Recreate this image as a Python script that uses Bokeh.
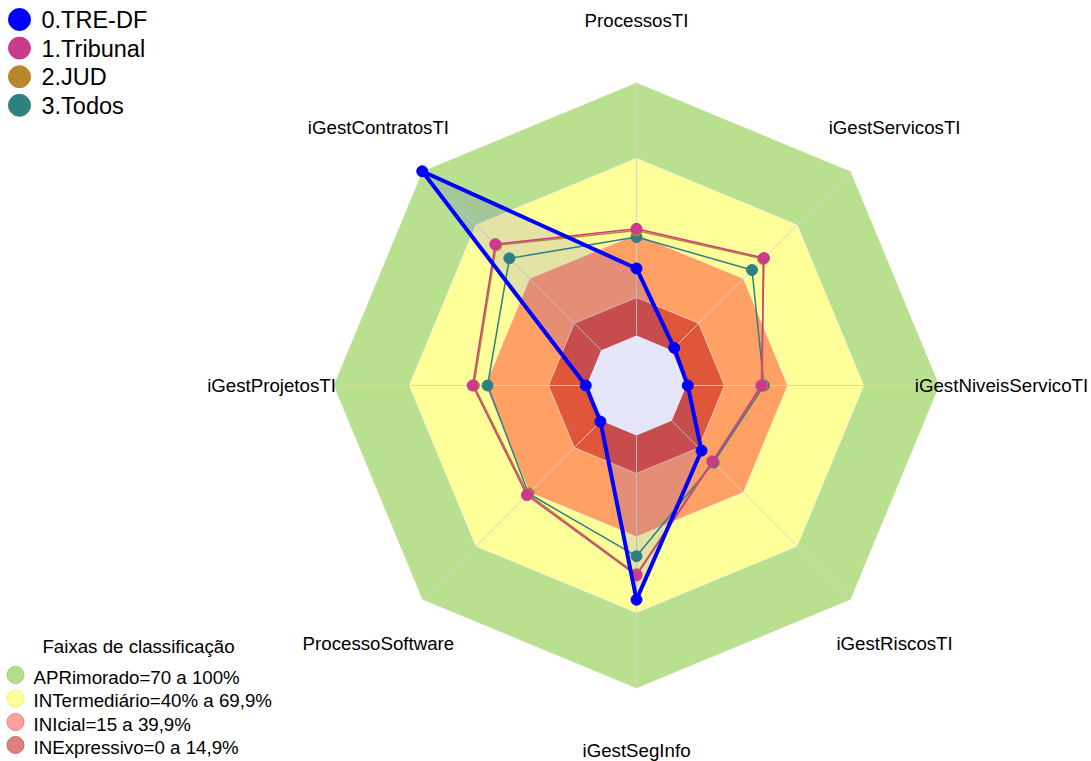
import numpy as np
from bokeh.plotting import figure
from bokeh.models import Range1d
from bokeh.core.properties import value
from bokeh.embed import file_html
from bokeh.resources import INLINE

# ---------------- data ----------------
categories = ["ProcessosTI", "iGestServicosTI", "iGestNiveisServicoTI", "iGestRiscosTI",
              "iGestSegInfo", "ProcessoSoftware", "iGestProjetosTI", "iGestContratosTI"]
series_names = ["0.TRE-DF", "1.Tribunal", "2.JUD", "3.Todos"]
tre_df = [26.5, 1.3, 0.5, 16.6, 64.9, 0.4, 0.3, 100.0]
tribunal = [42.2, 51.5, 29.6, 22.8, 55.3, 41.5, 45.0, 59.2]
jud = [41.5, 51.0, 30.0, 22.5, 54.8, 40.9, 44.5, 58.6]
todos = [38.9, 44.8, 30.6, 23.3, 47.7, 40.6, 39.1, 51.3]
series_colors = ["#0000FF", "#CC3A8C", "#B8862B", "#2F8080"]

band_title = "Faixas de classificação"
band_labels = ["APRimorado=70 a 100%", "INTermediário=40% a 69,9%",
               "INIcial=15 a 39,9%", "INExpressivo=0 a 14,9%"]
band_upper = [100, 70, 40, 15]
band_colors = ["#B9E08E", "#FFFF99", "#FFA064", "#E05638"]
legend_band_fill = ["#B5DD8A", "#FFFF99", "#FF9E9E", "#DC7F7F"]
legend_band_line = ["#A3CB7A", "#EEEE88", "#EE8080", "#C86A6A"]

# ---------------- geometry (page pixels) ----------------
CX, CY = 636, 385          # radar centre
K = 2.53                   # pixels per percentage point
HOLE = 50 / K              # inner hole radius in value units
LABEL_R = 124.5            # label radius in value units
W, H, MARGIN = 1091, 761, 0
FONT = "Liberation Sans"


def px(x, y):
    return (np.asarray(x, float) - CX) / K, (CY - np.asarray(y, float)) / K


n = len(categories)
ang = np.pi / 2 - np.arange(n) * 2 * np.pi / n


def polar(vals):
    r = HOLE + np.asarray(vals, float)
    return r * np.cos(ang), r * np.sin(ang)


bx0, by0 = px(MARGIN, MARGIN + H)
bx1, by1 = px(MARGIN + W, MARGIN)
p = figure(width=W, height=H, x_range=Range1d(float(bx0), float(bx1)),
           y_range=Range1d(float(by0), float(by1)), output_backend="svg",
           toolbar_location=None, min_border=0, x_axis_location=None,
           y_axis_location=None)
p.grid.visible = False
p.outline_line_color = None
p.background_fill_color = "white"
p.border_fill_color = "white"

# bands
for lvl, col in zip(band_upper, band_colors):
    xs, ys = polar([lvl] * n)
    p.patch(list(xs), list(ys), fill_color=col, line_color="white",
            line_alpha=0.55, line_width=1)

# spokes
ox, oy = polar([100] * n)
ix, iy = polar([0] * n)
p.segment(x0=list(ix), y0=list(iy), x1=list(ox), y1=list(oy),
          line_color="#D3D3D3", line_width=1, line_alpha=0.9)

# TRE-DF translucent area
tx, ty = polar(tre_df)
p.patch(list(tx), list(ty), fill_color="#0000FF", fill_alpha=0.11, line_color=None)

# centre hole
p.patch(list(ix), list(iy), fill_color="#E6E6FA", line_color=None)

# series (drawn bottom to top)
all_series = [tre_df, tribunal, jud, todos]
for idx in [3, 2, 1, 0]:
    xs, ys = polar(all_series[idx])
    xc = list(xs) + [xs[0]]
    yc = list(ys) + [ys[0]]
    lw = 4 if idx == 0 else 1.5
    p.line(xc, yc, line_color=series_colors[idx], line_width=lw)
    p.scatter(list(xs), list(ys), size=11, marker="circle",
              fill_color=series_colors[idx], line_color=series_colors[idx])

# category labels
lx = (LABEL_R + HOLE) * np.cos(ang)
ly = (LABEL_R + HOLE) * np.sin(ang)
p.text(list(lx), list(ly), text=categories, text_align="center",
       text_baseline="middle", text_font=value(FONT), text_font_size="18.7px",
       text_color="black")

# series legend (top-left)
leg_y = [19 + 28.6 * i for i in range(len(series_names))]
mx, my = px([19] * len(leg_y), leg_y)
p.scatter(list(mx), list(my), size=22, marker="circle",
          fill_color=series_colors, line_color=series_colors)
tx2, ty2 = px([41] * len(leg_y), [y + 0.5 for y in leg_y])
p.text(list(tx2), list(ty2), text=series_names, text_align="left",
       text_baseline="middle", text_font=value(FONT), text_font_size="23.5px",
       text_color="black")

# band legend (bottom-left)
ttx, tty = px([138], [646])
p.text(list(ttx), list(tty), text=[band_title], text_align="center",
       text_baseline="middle", text_font=value(FONT), text_font_size="18.7px",
       text_color="black")
brow = [674.5, 698, 721.5, 744.5]
cx2, cy2 = px([15] * 4, brow)
p.scatter(list(cx2), list(cy2), size=17, marker="circle",
          fill_color=legend_band_fill, line_color=legend_band_line, line_width=1)
bx2, by2 = px([33] * 4, [y + 2 for y in brow])
p.text(list(bx2), list(by2), text=band_labels, text_align="left",
       text_baseline="middle", text_font=value(FONT), text_font_size="18.7px",
       text_color="black")

open("out.html", "w").write(file_html(p, INLINE))
